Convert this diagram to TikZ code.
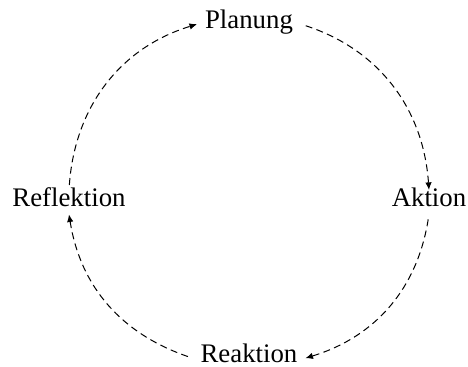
\documentclass[tikz,border=0pt]{standalone}
\usepackage{fontspec}
\setmainfont{Liberation Serif}
\usetikzlibrary{arrows.meta}

\begin{document}
\begin{tikzpicture}[x=0.5pt,y=0.5pt,
  lbl/.style={font=\fontsize{13.4pt}{16pt}\selectfont, anchor=base, inner xsep=4pt, inner ysep=1.5pt,
    outer sep=0pt, text height=0.7em, text depth=0.22em},
  a/.style={-{Latex[length=3.8pt,width=3.2pt]}, line width=0.5pt, dash pattern=on 3.5pt off 2.2pt,
    shorten <=2.5pt}]
\useasboundingbox (0,0) rectangle (468,367);
\node[lbl] (plan) at (249,338) {Planung};
\node[lbl] (akt) at (429,160) {Aktion};
\node[lbl] (reak) at (249,4) {Reaktion};
\node[lbl] (refl) at (69,160) {Reflektion};
% cycle
\draw[a] (refl.north) to[out=86,in=197] (plan.west);
\draw[a] (plan.east) to[out=-18,in=94] (akt.north);
\draw[a] (akt.south) to[out=-99,in=17] (reak.east);
\draw[a] (reak.west) to[out=161,in=-81] (refl.south);
\end{tikzpicture}
\end{document}
